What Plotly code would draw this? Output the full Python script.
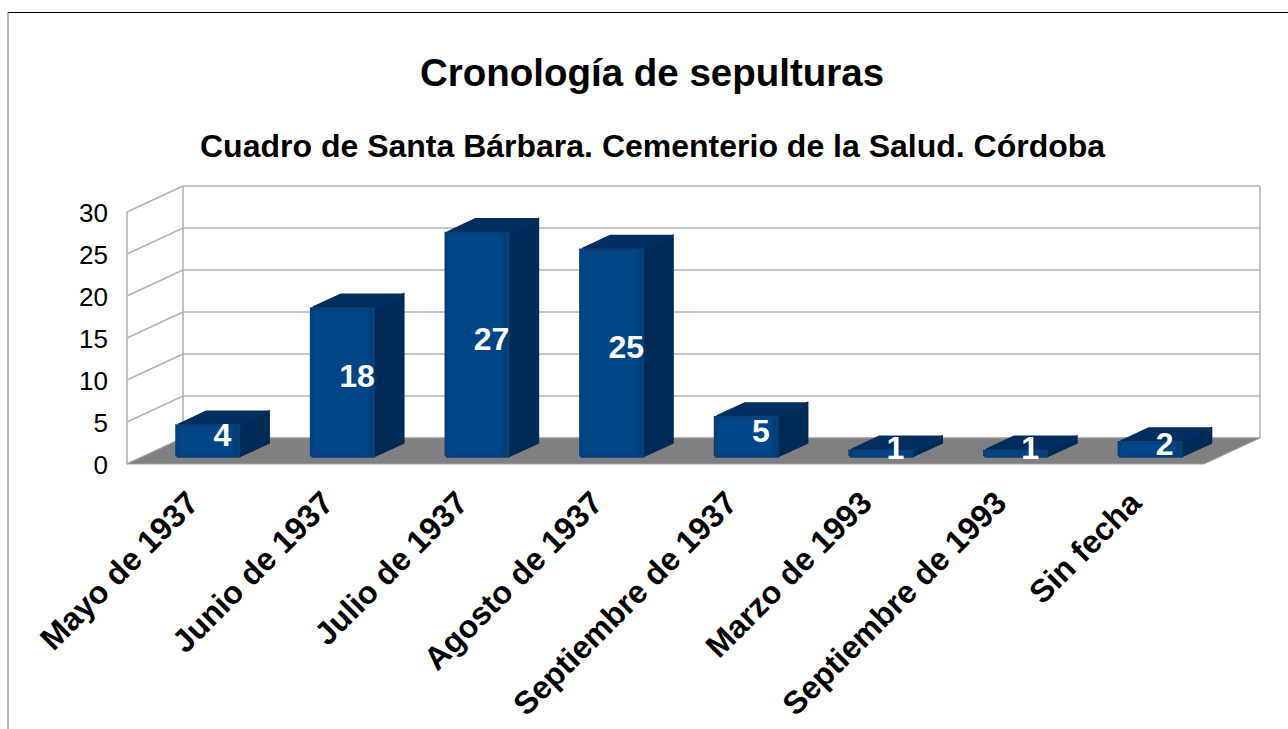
import plotly.graph_objects as go

categories = ["Mayo de 1937", "Junio de 1937", "Julio de 1937", "Agosto de 1937",
              "Septiembre de 1937", "Marzo de 1993", "Septiembre de 1993", "Sin fecha"]
values = [4, 18, 27, 25, 5, 1, 1, 2]
y_ticks = [0, 5, 10, 15, 20, 25, 30]
title_text = "Cronología de sepulturas"
subtitle_text = "Cuadro de Santa Bárbara. Cementerio de la Salud. Córdoba"

W, H = 1288, 729
FONT = "Liberation Sans"
X0, CAT_W = 127.0, 134.625   # pixel of category origin, pixels per category
Y0, UNIT = 464.0, 8.4        # pixel of value 0, pixels per value
DEPTH_X = 56 / CAT_W         # full depth expressed in axis units
DEPTH_Y = 26 / UNIT
BAR_HALF = 32.5 / CAT_W
D1, D2 = 0.24, 0.80          # bar depth span
BAR_SCALE = 0.996            # bars sit slightly in front of the wall scale

EX = 1.5 / CAT_W             # corner rounding inset, axis units
EV = 1.5 / UNIT
ED = 0.03

FRONT = "#004586"
SIDE = "#002b57"
TOP = "#002f5e"
GRID = "#b3b3b3"
FLOOR = "#808080"


def proj(x, v, d):
    return x + d * DEPTH_X, v + d * DEPTH_Y


def poly(points, **kw):
    xs, ys = zip(*[proj(*p) for p in points])
    return go.Scatter(x=list(xs) + [xs[0]], y=list(ys) + [ys[0]], mode="lines", fill="toself",
                      hoverinfo="skip", showlegend=False, **kw)


def seg(p, q):
    a, b = proj(*p), proj(*q)
    return go.Scatter(x=[a[0], b[0]], y=[a[1], b[1]], mode="lines", hoverinfo="skip",
                      showlegend=False, line=dict(color=GRID, width=1.6))


n = len(categories)
top_v = y_ticks[-1]
fig = go.Figure()

# walls
for v in y_ticks:
    fig.add_trace(seg((0, v, 1), (n, v, 1)))
    fig.add_trace(seg((0, v, 0), (0, v, 1)))
fig.add_trace(seg((0, 0, 0), (0, top_v, 0)))
fig.add_trace(seg((0, 0, 1), (0, top_v, 1)))
fig.add_trace(seg((n, 0, 1), (n, top_v, 1)))

# floor
fig.add_trace(poly([(0, 0, 0), (0, 0, 1), (n, 0, 1), (n, 0, 0)], fillcolor=FLOOR,
                   line=dict(color="#a0a0a0", width=1)))

# bars
for k, value in enumerate(values):
    v = value * BAR_SCALE
    c = k + 0.5
    l, r = c - BAR_HALF, c + BAR_HALF
    fig.add_trace(poly([(r - EX, EV, D1), (r - EX, EV, D2 - ED), (r - EX, v - EV, D2 - ED), (r - EX, v - EV, D1)],
                       fillcolor=SIDE, line=dict(color=SIDE, width=3)))
    fig.add_trace(poly([(l + EX, v - EV, D1 + ED), (l + EX, v - EV, D2 - ED),
                        (r - EX, v - EV, D2 - ED), (r - EX, v - EV, D1 + ED)],
                       fillcolor=TOP, line=dict(color=TOP, width=3)))
    fig.add_trace(poly([(l + EX, EV, D1), (r - EX, EV, D1), (r - EX, v - EV, D1), (l + EX, v - EV, D1)],
                       line=dict(color="#063f7a", width=3),
                       fillgradient=dict(type="horizontal", colorscale=[
                           [0, "#023f7c"], [0.05, FRONT], [0.88, FRONT], [1, "#003a70"]])))

# data labels
LABEL_DROP = 4 / UNIT
lx, ly = zip(*[proj(k + 0.5, v / 2, 0.5) for k, v in enumerate(values)])
fig.add_trace(go.Scatter(x=list(lx), y=[p - LABEL_DROP for p in ly], mode="text",
                         text=[str(v) for v in values],
                         textposition="middle center", hoverinfo="skip", showlegend=False,
                         cliponaxis=False,
                         textfont=dict(family=FONT, size=32, color="white", weight=700)))

fig.update_layout(
    width=W, height=H, autosize=False,
    margin=dict(l=0, r=0, t=0, b=0, pad=0),
    paper_bgcolor="white", plot_bgcolor="white",
    showlegend=False,
    xaxis=dict(domain=[0, 1], range=[-X0 / CAT_W, (W - X0) / CAT_W], anchor="free",
               position=1 - (Y0 + 12.5) / H, tickmode="array",
               tickvals=[k + 0.5 - 5 / CAT_W for k in range(n)], ticktext=categories, tickangle=-45,
               showgrid=False, zeroline=False, showline=False, ticks="", automargin=False,
               tickfont=dict(family=FONT, size=32, color="black", weight=700)),
    yaxis=dict(domain=[0, 1], range=[(Y0 - H) / UNIT, Y0 / UNIT], anchor="free",
               position=(X0 - 19) / W, tickmode="array", tickvals=y_ticks,
               ticklabelshift=1,
               showgrid=False, zeroline=False, showline=False, ticks="", automargin=False,
               tickfont=dict(family=FONT, size=26, color="black")),
    title=dict(text=title_text, x=652 / W, xanchor="center", xref="paper",
               y=1 - 73 / H, yanchor="middle", yref="paper",
               font=dict(family=FONT, size=38.5, color="black", weight=700)),
    annotations=[dict(text=subtitle_text, xref="paper", yref="paper", x=652 / W, y=1 - 146 / H,
                      xanchor="center", yanchor="middle", showarrow=False,
                      font=dict(family=FONT, size=32, color="black", weight=700))],
    shapes=[
        dict(type="line", xref="paper", yref="paper", x0=8 / W, x1=1, y0=1 - 12.5 / H, y1=1 - 12.5 / H,
             line=dict(color="black", width=1)),
        dict(type="line", xref="paper", yref="paper", x0=8 / W, x1=8 / W, y0=1 - 12 / H, y1=0,
             line=dict(color="#6e6e6e", width=1)),
    ],
)

fig.write_html("out.html", config={"displayModeBar": False},
               post_script="document.body.style.margin='0';document.body.style.overflow='hidden';")
